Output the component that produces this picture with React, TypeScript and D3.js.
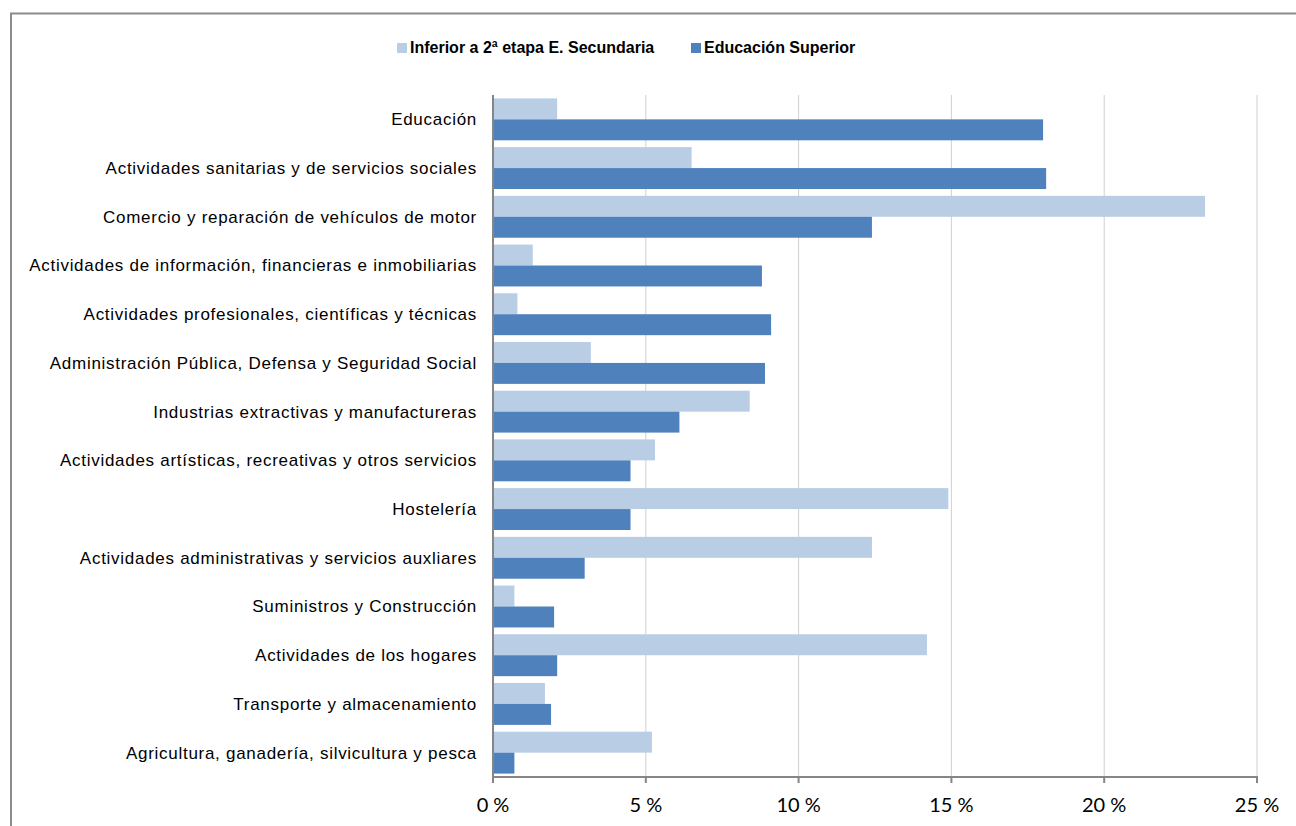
import React from "react";
import * as d3 from "d3";

const categories = [
  "Educación",
  "Actividades sanitarias y de servicios sociales",
  "Comercio y reparación de vehículos de motor",
  "Actividades de información, financieras e inmobiliarias",
  "Actividades profesionales, científicas y técnicas",
  "Administración Pública, Defensa y Seguridad Social",
  "Industrias extractivas y manufactureras",
  "Actividades artísticas, recreativas y otros servicios",
  "Hostelería",
  "Actividades administrativas y servicios auxliares",
  "Suministros y Construcción",
  "Actividades de los hogares",
  "Transporte y almacenamiento",
  "Agricultura, ganadería, silvicultura y pesca",
];

const inferior = [2.1, 6.5, 23.3, 1.3, 0.8, 3.2, 8.4, 5.3, 14.9, 12.4, 0.7, 14.2, 1.7, 5.2];
const superior = [18.0, 18.1, 12.4, 8.8, 9.1, 8.9, 6.1, 4.5, 4.5, 3.0, 2.0, 2.1, 1.9, 0.7];

const seriesNames = ["Inferior a 2ª etapa E. Secundaria", "Educación Superior"];
const seriesColors = ["#B9CDE5", "#4F81BD"];
const xTicks = [0, 5, 10, 15, 20, 25];

export default function App() {
  const W = 1296, H = 826;
  const x0 = 493, x1 = 1257, yTop = 95, yBot = 777;
  const x = d3.scaleLinear().domain([0, 25]).range([x0, x1]);
  const y = d3.scaleBand<string>().domain(categories).range([yTop, yBot]).paddingInner(0.14).paddingOuter(0.07);
  const sub = d3.scaleBand<number>().domain([0, 1]).range([0, y.bandwidth()]);
  const series = [inferior, superior];
  const labelFont = "'Liberation Sans', Arial, sans-serif";

  return (
    <svg width={W} height={H} style={{ position: "absolute", left: 0, top: 0, background: "#fff" }}>
      <rect x={11} y={13.5} width={W + 10} height={H + 10} fill="#fff" stroke="#8c8c8c" strokeWidth={2} />
      {xTicks.slice(1).map((t) => (
        <line key={t} x1={x(t)} x2={x(t)} y1={yTop} y2={yBot} stroke="#d0d0d0" strokeWidth={1} />
      ))}
      {categories.map((c, i) =>
        series.map((s, k) => (
          <rect
            key={c + k}
            x={x(0)}
            y={(y(c) as number) + (sub(k) as number)}
            width={x(s[i]) - x(0)}
            height={sub.bandwidth()}
            fill={seriesColors[k]}
          />
        ))
      )}
      <line x1={x0} x2={x0} y1={yTop} y2={yBot} stroke="#868686" strokeWidth={2} />
      <line x1={x0} x2={x1 + 1} y1={yBot} y2={yBot} stroke="#868686" strokeWidth={2} />
      {xTicks.map((t) => (
        <line key={"tk" + t} x1={x(t)} x2={x(t)} y1={yBot} y2={yBot + 6} stroke="#868686" strokeWidth={2} />
      ))}
      {xTicks.map((t) => (
        <text key={"tl" + t} x={x(t)} y={812} textAnchor="middle" fontFamily="Lato, 'Open Sans', sans-serif" fontSize={20} fill="#000">
          {t + " %"}
        </text>
      ))}
      {categories.map((c) => (
        <text
          key={"cl" + c}
          x={477}
          y={(y(c) as number) + y.bandwidth() / 2}
          dy="0.35em"
          textAnchor="end"
          fontFamily={labelFont}
          fontSize={17}
          letterSpacing={0.72}
          fill="#000"
        >
          {c}
        </text>
      ))}
      <rect x={397} y={43} width={10} height={10} fill={seriesColors[0]} />
      <text x={410} y={53} fontFamily={labelFont} fontSize={16} fontWeight="bold" fill="#000">
        {seriesNames[0]}
      </text>
      <rect x={691} y={43} width={10} height={10} fill={seriesColors[1]} />
      <text x={704} y={53} fontFamily={labelFont} fontSize={16} fontWeight="bold" fill="#000">
        {seriesNames[1]}
      </text>
    </svg>
  );
}
